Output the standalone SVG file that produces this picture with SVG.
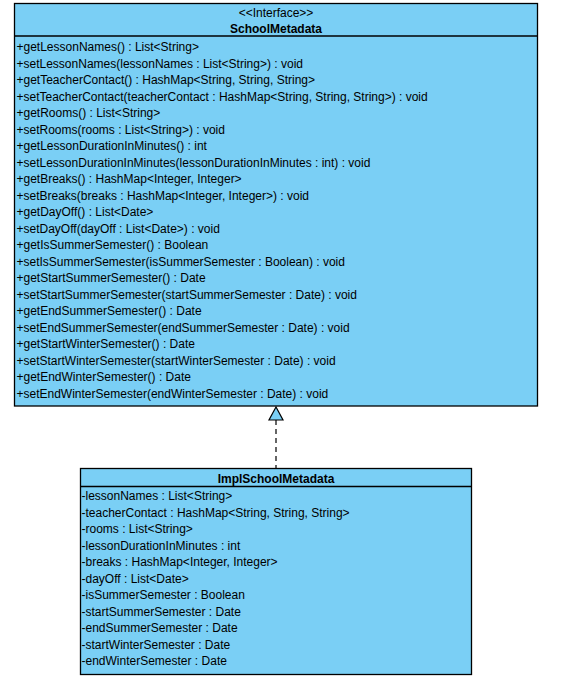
<svg xmlns="http://www.w3.org/2000/svg" width="575" height="683" viewBox="0 0 575 683">
<style>
.box{fill:#7acff5;stroke:#000;stroke-width:1.3}
.div{stroke:#000;stroke-width:1.3}
text{font-family:"Liberation Sans",Arial,sans-serif;font-size:12px;fill:#000}
.c{text-anchor:middle}
.b{font-weight:bold}
.conn{stroke:#000;stroke-width:1.2;fill:none;stroke-dasharray:5,4}
</style>
<rect width="575" height="683" fill="#fff"/>
<g id="SchoolMetadata">
<rect class="box" x="14.5" y="3.5" width="523" height="402.5"/>
<line class="div" x1="14.5" y1="36" x2="537.5" y2="36"/>
<text class="c" x="276" y="17">&lt;&lt;Interface&gt;&gt;</text>
<text class="c b" x="276" y="33">SchoolMetadata</text>
<text x="16.5" y="51.3">+getLessonNames() : List&lt;String&gt;</text>
<text x="16.5" y="67.8">+setLessonNames(lessonNames : List&lt;String&gt;) : void</text>
<text x="16.5" y="84.3">+getTeacherContact() : HashMap&lt;String, String, String&gt;</text>
<text x="16.5" y="100.8">+setTeacherContact(teacherContact : HashMap&lt;String, String, String&gt;) : void</text>
<text x="16.5" y="117.3">+getRooms() : List&lt;String&gt;</text>
<text x="16.5" y="133.8">+setRooms(rooms : List&lt;String&gt;) : void</text>
<text x="16.5" y="150.3">+getLessonDurationInMinutes() : int</text>
<text x="16.5" y="166.8">+setLessonDurationInMinutes(lessonDurationInMinutes : int) : void</text>
<text x="16.5" y="183.3">+getBreaks() : HashMap&lt;Integer, Integer&gt;</text>
<text x="16.5" y="199.8">+setBreaks(breaks : HashMap&lt;Integer, Integer&gt;) : void</text>
<text x="16.5" y="216.3">+getDayOff() : List&lt;Date&gt;</text>
<text x="16.5" y="232.8">+setDayOff(dayOff : List&lt;Date&gt;) : void</text>
<text x="16.5" y="249.3">+getIsSummerSemester() : Boolean</text>
<text x="16.5" y="265.8">+setIsSummerSemester(isSummerSemester : Boolean) : void</text>
<text x="16.5" y="282.3">+getStartSummerSemester() : Date</text>
<text x="16.5" y="298.8">+setStartSummerSemester(startSummerSemester : Date) : void</text>
<text x="16.5" y="315.3">+getEndSummerSemester() : Date</text>
<text x="16.5" y="331.8">+setEndSummerSemester(endSummerSemester : Date) : void</text>
<text x="16.5" y="348.3">+getStartWinterSemester() : Date</text>
<text x="16.5" y="364.8">+setStartWinterSemester(startWinterSemester : Date) : void</text>
<text x="16.5" y="381.3">+getEndWinterSemester() : Date</text>
<text x="16.5" y="397.8">+setEndWinterSemester(endWinterSemester : Date) : void</text>
</g>
<g id="ImplSchoolMetadata">
<rect class="box" x="80.5" y="468.5" width="391" height="206"/>
<line class="div" x1="80.5" y1="486.5" x2="471.5" y2="486.5"/>
<text class="c b" x="276" y="482.5">ImplSchoolMetadata</text>
<text x="81.5" y="500.3">-lessonNames : List&lt;String&gt;</text>
<text x="81.5" y="516.8">-teacherContact : HashMap&lt;String, String, String&gt;</text>
<text x="81.5" y="533.3">-rooms : List&lt;String&gt;</text>
<text x="81.5" y="549.8">-lessonDurationInMinutes : int</text>
<text x="81.5" y="566.3">-breaks : HashMap&lt;Integer, Integer&gt;</text>
<text x="81.5" y="582.8">-dayOff : List&lt;Date&gt;</text>
<text x="81.5" y="599.3">-isSummerSemester : Boolean</text>
<text x="81.5" y="615.8">-startSummerSemester : Date</text>
<text x="81.5" y="632.3">-endSummerSemester : Date</text>
<text x="81.5" y="648.8">-startWinterSemester : Date</text>
<text x="81.5" y="665.3">-endWinterSemester : Date</text>
</g>
<g id="connectors">
<line class="conn" x1="276" y1="420" x2="276" y2="468"/>
<polygon points="276,407 269,420 283,420" fill="#7acff5" stroke="#000" stroke-width="1.2"/>
</g>
</svg>
